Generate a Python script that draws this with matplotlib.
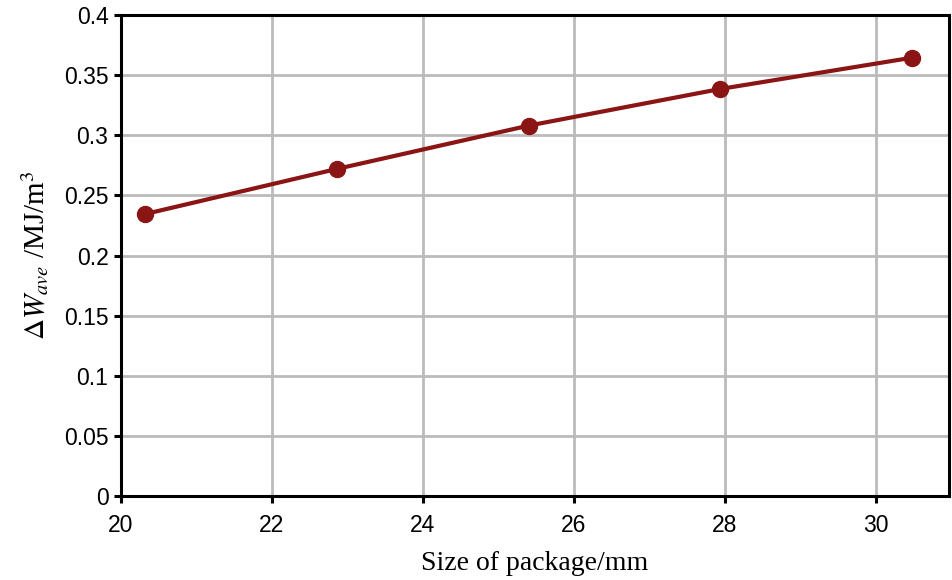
import matplotlib
matplotlib.use("Agg")
import matplotlib.pyplot as plt

package_size = [20.32, 22.86, 25.4, 27.94, 30.48]
delta_w = [0.2345, 0.272, 0.308, 0.3385, 0.3645]
x_ticks = [20, 22, 24, 26, 28, 30]
y_ticks = [0, 0.05, 0.1, 0.15, 0.2, 0.25, 0.3, 0.35, 0.4]
y_tick_labels = ["0", "0.05", "0.1", "0.15", "0.2", "0.25", "0.3", "0.35", "0.4"]

plt.rcParams['mathtext.fontset'] = 'stix'
fig = plt.figure(figsize=(9.52, 5.8), dpi=100)
ax = fig.add_axes([0.1271, 0.1448, 0.8697, 0.8293])

ax.plot(package_size, delta_w, color="#8B1414", lw=3, marker="o", ms=11.5, zorder=3)
ax.set_xlim(20, 30.97)
ax.set_ylim(0, 0.4)
ax.set_xticks(x_ticks)
ax.set_yticks(y_ticks)
ax.set_yticklabels(y_tick_labels)
ax.grid(True, color="#BBBBBB", lw=2)
ax.set_axisbelow(True)
for s in ax.spines.values():
    s.set_linewidth(2.2)
ax.tick_params(direction="out", length=5, width=2.2, labelsize=16.5)
ax.tick_params(axis="x", pad=8)
ax.tick_params(axis="y", pad=4)
for lab in ax.get_xticklabels() + ax.get_yticklabels():
    lab.set_family("Liberation Sans")

ax.set_xlabel("Size of package/mm", family="Liberation Serif", fontsize=20, labelpad=10)
ax.set_ylabel(r"$\Delta W_{ave}$ /MJ/m$^3$", family="Liberation Serif", fontsize=21, labelpad=10)

fig.savefig("out.png", dpi=100)
